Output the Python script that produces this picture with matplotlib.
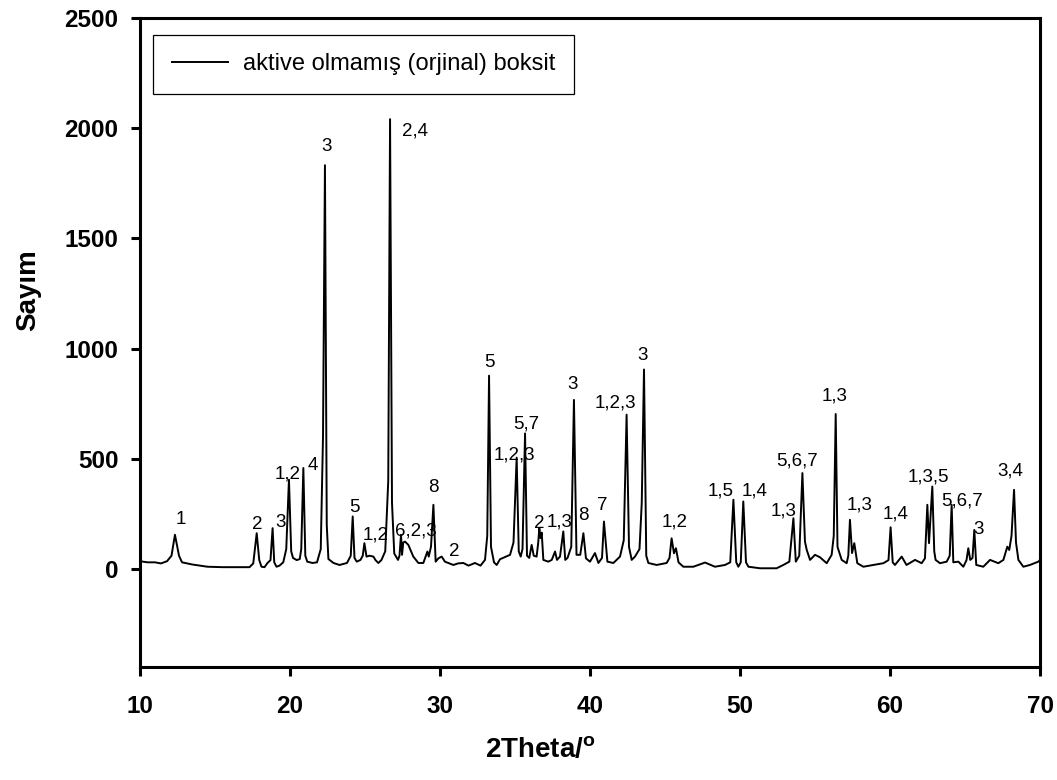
import matplotlib
matplotlib.use("Agg")
import matplotlib.pyplot as plt

plt.rcParams["font.family"] = ["Liberation Sans", "DejaVu Sans"]
plt.rcParams["mathtext.fontset"] = "custom"
plt.rcParams["mathtext.rm"] = "Liberation Sans"
plt.rcParams["mathtext.bf"] = "Liberation Sans:bold"

# 2Theta / counts
two_theta = [
    10.0, 10.5, 11.0, 11.4, 11.8, 12.1, 12.33, 12.6, 12.8, 13.5, 14.5, 15.5, 16.5, 17.3,
    17.55, 17.78, 17.95, 18.1, 18.3, 18.5, 18.7, 18.84, 18.95, 19.1, 19.3, 19.55, 19.75,
    19.93, 20.08, 20.2, 20.45, 20.65, 20.75, 20.89, 21.02, 21.15, 21.5, 21.8, 22.05, 22.2,
    22.33, 22.45, 22.56, 22.9, 23.3, 23.8, 24.05, 24.18, 24.3, 24.45, 24.7, 24.85, 24.96,
    25.1, 25.3, 25.56, 25.7, 25.89, 26.1, 26.35, 26.55, 26.67, 26.8, 26.95, 27.2, 27.3,
    27.4, 27.47, 27.55, 27.67, 27.89, 28.22, 28.56, 28.89, 29.16, 29.25, 29.4, 29.56,
    29.71, 29.89, 30.11, 30.33, 30.89, 31.2, 31.56, 31.9, 32.33, 32.7, 33.0, 33.15, 33.27,
    33.4, 33.6, 33.78, 34.0, 34.67, 34.9, 35.11, 35.25, 35.38, 35.5, 35.67, 35.8, 35.95,
    36.11, 36.25, 36.44, 36.55, 36.62, 36.7, 36.78, 36.89, 37.22, 37.45, 37.67, 37.8,
    38.0, 38.22, 38.35, 38.5, 38.75, 38.93, 39.1, 39.35, 39.56, 39.73, 40.0, 40.33, 40.56,
    40.8, 40.93, 41.16, 41.56, 42.0, 42.25, 42.44, 42.6, 42.78, 43.0, 43.3, 43.45, 43.6,
    43.75, 43.89, 44.44, 45.11, 45.3, 45.44, 45.6, 45.73, 45.9, 46.22, 46.89, 47.67, 48.33,
    49.0, 49.35, 49.56, 49.75, 49.89, 50.05, 50.22, 50.4, 50.56, 51.33, 52.44, 52.89,
    53.29, 53.56, 53.72, 53.95, 54.16, 54.33, 54.45, 54.67, 55.0, 55.33, 55.78, 56.11,
    56.25, 56.38, 56.5, 56.6, 56.78, 57.11, 57.22, 57.33, 57.47, 57.62, 57.82, 58.22,
    58.89, 59.56, 59.9, 60.04, 60.18, 60.33, 60.78, 61.1, 61.67, 62.11, 62.33, 62.49,
    62.6, 62.82, 62.95, 63.04, 63.33, 63.78, 63.98, 64.11, 64.22, 64.56, 64.89, 65.1,
    65.22, 65.35, 65.5, 65.62, 65.75, 66.22, 66.67, 67.22, 67.56, 67.82, 67.95, 68.1,
    68.27, 68.4, 68.56, 68.89, 69.33, 69.89, 70.0,
]
counts = [
    35, 30, 30, 25, 35, 60, 155, 60, 30, 20, 10, 8, 8, 8,
    25, 162, 40, 10, 8, 27, 40, 185, 30, 10, 15, 30, 90,
    405, 80, 50, 40, 45, 90, 458, 60, 33, 27, 30, 90, 600,
    1832, 200, 45, 27, 18, 27, 60, 238, 50, 33, 41, 60, 117,
    56, 60, 56, 40, 27, 41, 80, 400, 2041, 300, 70, 41, 60,
    155, 64, 120, 124, 109, 56, 27, 27, 79, 56, 101, 291,
    33, 48, 56, 33, 18, 25, 27, 15, 27, 15, 41, 150, 877,
    100, 30, 18, 44, 64, 120, 505, 80, 56, 90, 615, 60, 50,
    109, 60, 56, 120, 185, 140, 165, 41, 33, 41, 79, 41,
    56, 170, 41, 50, 100, 767, 64, 64, 162, 48, 33, 72, 27,
    50, 215, 33, 27, 56, 130, 700, 100, 41, 56, 90, 300, 905,
    60, 27, 18, 27, 50, 139, 71, 94, 30, 10, 10, 29, 10,
    18, 30, 314, 30, 10, 30, 306, 30, 10, 3, 3, 18,
    33, 230, 33, 60, 435, 124, 86, 41, 64, 53, 26, 64,
    150, 703, 100, 79, 41, 26, 60, 223, 72, 117, 26, 10,
    18, 26, 40, 189, 30, 18, 56, 18, 41, 26, 48, 291,
    117, 374, 80, 41, 26, 33, 60, 291, 30, 33, 10, 40,
    94, 41, 50, 177, 18, 10, 41, 26, 41, 101, 86, 150,
    359, 120, 41, 10, 18, 33, 41,
]

# phase labels above the peaks
peak_labels = ["1", "2", "3", "1,2", "4", "3", "5", "1,2", "2,4", "6,2,3", "8", "2",
               "5", "1,2,3", "5,7", "2", "1,3", "3", "8", "7", "1,2,3", "3", "1,2",
               "1,5", "1,4", "1,3", "5,6,7", "1,3", "1,3", "1,4", "1,3,5", "5,6,7", "3", "3,4"]
label_x = [12.71, 17.82, 19.38, 19.82, 21.51, 22.45, 24.33, 25.71, 28.33, 28.38, 29.55, 30.93,
           33.33, 34.93, 35.78, 36.62, 38.0, 38.82, 39.55, 40.85, 41.67, 43.51, 45.67,
           48.71, 51.0, 52.89, 53.78, 56.33, 57.95, 60.38, 62.55, 64.82, 65.89, 68.0]
label_y = [223, 200, 210, 432, 468, 1915, 279, 155, 1985, 174, 370, 79,
           935, 518, 659, 205, 215, 839, 241, 288, 753, 968, 212,
           355, 355, 264, 491, 786, 291, 249, 415, 310, 177, 445]

fig = plt.figure(figsize=(10.57, 7.8), dpi=100)
ax = fig.add_axes([140 / 1057, 1 - 667 / 780, 900 / 1057, 649 / 780])

ax.plot(two_theta, counts, color="black", linewidth=1.4, label="aktive olmamış (orjinal) boksit")

for t, x, y in zip(peak_labels, label_x, label_y):
    ax.text(x, y, t, ha="center", va="center", fontsize=13.5)

ax.set_xlim(10, 70)
ax.set_ylim(-445, 2500)
ax.set_xticks([10, 20, 30, 40, 50, 60, 70])
ax.set_yticks([0, 500, 1000, 1500, 2000, 2500])
ax.tick_params(direction="out", length=6.5, width=2.2, labelsize=17.5)
ax.tick_params(axis="x", pad=14)
ax.tick_params(axis="y", pad=9)
for lbl in ax.get_xticklabels() + ax.get_yticklabels():
    lbl.set_fontweight("bold")
for s in ax.spines.values():
    s.set_linewidth(2.2)

ax.set_xlabel(r"2Theta/$\mathbf{^o}$", fontsize=20, fontweight="bold", va="center")
ax.xaxis.set_label_coords(400 / 900, -83 / 649)
ax.set_ylabel("Sayım", fontsize=20, fontweight="bold", va="center")
ax.yaxis.set_label_coords(-112 / 900, (667 - 290) / 649)

leg = ax.legend(loc="upper left", bbox_to_anchor=(0.0148, 0.9743), borderaxespad=0,
                fontsize=17, fancybox=False, framealpha=1, edgecolor="black",
                handlelength=2.4, handletextpad=0.62, borderpad=0.78)
leg.get_frame().set_linewidth(0.9)

fig.savefig("out.png", dpi=100)
